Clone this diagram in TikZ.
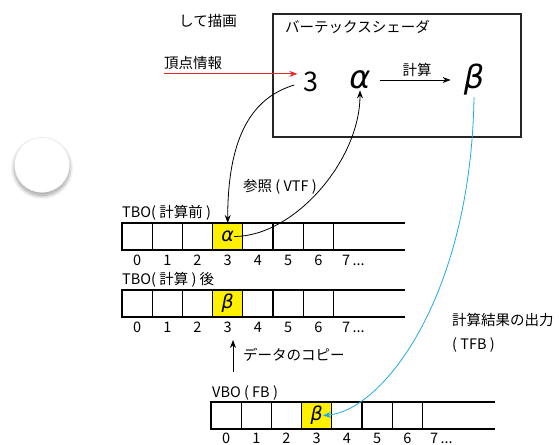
\documentclass[tikz,border=0pt]{standalone}
\usepackage{fontspec}
\setmainfont{Noto Sans CJK JP}
\newfontfamily\grk{DejaVu Sans}[ItalicFont={DejaVu Sans Oblique}]
\usetikzlibrary{arrows.meta,shadows.blur}
\definecolor{redline}{RGB}{230,40,40}
\definecolor{blueline}{RGB}{30,170,230}
\definecolor{cellyel}{RGB}{255,240,0}
\tikzset{
  cell/.style={draw, line width=1.1pt, minimum width=30.2pt, minimum height=27pt, inner sep=0pt, outer sep=0pt},
  yelcell/.style={cell, fill=cellyel},
  lbl/.style={font=\fontsize{14.5}{16}\selectfont, inner sep=0pt},
  idx/.style={font=\fontsize{14.5}{16}\selectfont, inner sep=0pt},
  big/.style={font=\fontsize{27}{30}\selectfont, inner sep=1pt},
  greekbig/.style={font=\fontsize{32}{34}\selectfont\grk\itshape, inner sep=1pt},
  greeksmall/.style={font=\fontsize{19}{21}\selectfont\grk\itshape, inner sep=0pt},
  arr/.style={-{Stealth[length=8pt,width=6pt]}, line width=0.8pt},
  openline/.style={line width=1.1pt},
}
\begin{document}
\begin{tikzpicture}[x=1pt,y=-1pt]
\useasboundingbox (0,0) rectangle (559,444);
% button circle
\node[circle, fill=white, draw=black!10, minimum size=55pt,
      blur shadow={shadow blur steps=12, shadow xshift=0pt, shadow yshift=-3pt, shadow blur radius=4pt}] (btn) at (42,165) {};
% top labels
\node[lbl] (draw) at (208,21) {して描画};
\node[draw, line width=1.2pt, draw=black!85, minimum width=248pt, minimum height=123pt, inner sep=0pt] (shader) at (397,75.5) {};
\node[lbl, anchor=west] (title) at (285,27) {バーテックスシェーダ};
\node[lbl] (info) at (193,63) {頂点情報};
\node[big] (three) at (311,82) {3};
\node[greekbig] (alpha) at (360,80) {α};
\node[greekbig] (beta) at (474,80) {β};
\draw[arr, shorten <=8pt, shorten >=12pt] (alpha.east) -- (beta.west)
  node[midway, above=3pt, lbl] (calc) {計算};
\draw[-{Stealth[length=8pt,width=6pt]}, redline, line width=0.8pt, shorten >=5pt]
  ([yshift=-4pt]info.south west) -- ([yshift=-4pt]info.south west -| three.west);
% row 1 : TBO before
\node[lbl, anchor=west] (tbo1) at (122,213) {TBO( 計算前 )};
\foreach \i in {0,1,2,4,5,6} {
  \node[cell] (a\i) at ({137.1+30.2*\i},236.5) {};
}
\node[yelcell] (a3) at ({137.1+30.2*3},236.5) {};
\node[greeksmall] (alphacell) at (a3) {α};
\foreach \i in {0,...,6} {
  \node[idx] (ai\i) at ({137.1+30.2*\i},260) {\i};
}
\node[idx, anchor=west] (ai7) at (342,260) {7\,...};
\draw[openline] (a6.north east) -- ++(72,0);
\draw[openline] (a6.south east) -- ++(72,0);
% row 2 : TBO after
\node[lbl, anchor=west] (tbo2) at (122,280) {TBO( 計算 ) 後};
\foreach \i in {0,1,2,4,5,6} {
  \node[cell] (b\i) at ({137.1+30.2*\i},303.5) {};
}
\node[yelcell] (b3) at ({137.1+30.2*3},303.5) {};
\node[greeksmall] (betacell2) at (b3) {β};
\foreach \i in {0,...,6} {
  \node[idx] (bi\i) at ({137.1+30.2*\i},327) {\i};
}
\node[idx, anchor=west] (bi7) at (342,327) {7\,...};
\draw[openline] (b6.north east) -- ++(72,0);
\draw[openline] (b6.south east) -- ++(72,0);
% copy arrow
\coordinate (copyS) at (233,372);
\coordinate (copyE) at (233,340);
\draw[arr] (copyS) -- (copyE);
\node[lbl, anchor=west] (copy) at (243,355) {データのコピー};
% row 3 : VBO
\node[lbl, anchor=west] (vbo) at (212,393) {VBO ( FB )};
\foreach \i in {0,1,2,4,5,6} {
  \node[cell] (c\i) at ({226.1+30.2*\i},415.5) {};
}
\node[yelcell] (c3) at ({226.1+30.2*3},415.5) {};
\node[greeksmall] (betacell3) at (c3) {β};
\foreach \i in {0,...,6} {
  \node[idx] (ci\i) at ({226.1+30.2*\i},438) {\i};
}
\node[idx, anchor=west] (ci7) at (430,438) {7\,...};
\draw[openline] (c6.north east) -- ++(73,0);
\draw[openline] (c6.south east) -- ++(73,0);
% right labels
\node[lbl, anchor=west] (out1) at (452,320) {計算結果の出力};
\node[lbl, anchor=west] (out2) at (452,345) {( TFB )};
\node[lbl] (ref) at (280,187) {参照 ( VTF )};
% curves
\draw[arr] ([xshift=-8pt,yshift=-3pt]three.west) .. controls +(-40,12) and +(0,-90) .. (a3.north);
\draw[arr] (alphacell.east) .. controls +(60,0) and +(0,70) .. (alpha.south);
\draw[-{Stealth[length=8pt,width=6pt]}, blueline, line width=0.8pt]
  (beta.south) .. controls +(-3,200) and +(60,-5) .. (betacell3.east);
\end{tikzpicture}
\end{document}
